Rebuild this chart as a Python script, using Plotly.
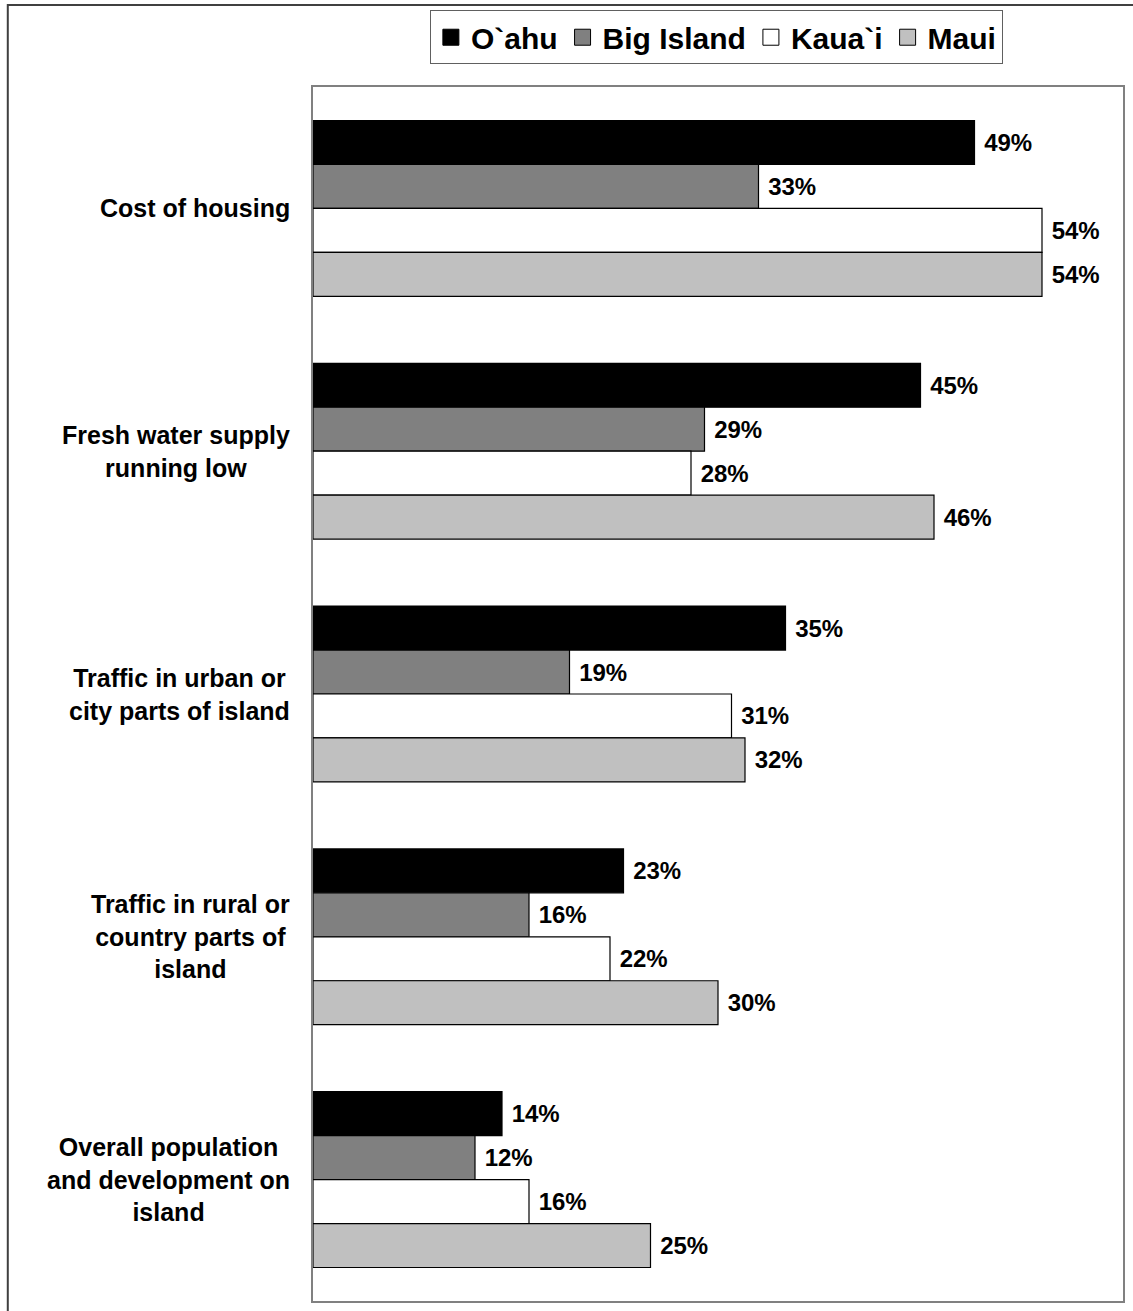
import plotly.graph_objects as go

# Survey: share naming each issue as a problem, by island
categories = [
    "Cost of housing",
    "Fresh water supply<br>running low",
    "Traffic in urban or<br>city parts of island",
    "Traffic in rural or<br>country parts of<br>island",
    "Overall population<br>and development on<br>island",
]
islands = ["O`ahu", "Big Island", "Kaua`i", "Maui"]
oahu = [49, 45, 35, 23, 14]
big_island = [33, 29, 19, 16, 12]
kauai = [54, 28, 31, 22, 16]
maui = [54, 46, 32, 30, 25]
series = [oahu, big_island, kauai, maui]
colors = ["#000000", "#808080", "#FFFFFF", "#C0C0C0"]

FONT = "Liberation Sans, Arial, sans-serif"

fig = go.Figure()

for name, vals, col in zip(islands, series, colors):
    fig.add_trace(go.Bar(
        y=categories,
        x=vals,
        orientation="h",
        name=name,
        marker=dict(color=col, line=dict(color="#000000", width=1.2)),
        text=["\u00a0%d%%" % v for v in vals],
        textposition="outside",
        textfont=dict(family=FONT, size=24, color="#000000", weight="bold"),
        constraintext="none",
        cliponaxis=False,
        showlegend=False,
    ))

# legend entries with larger square swatches
for name, col in zip(islands, colors):
    fig.add_trace(go.Scatter(
        x=[None], y=[None],
        mode="markers",
        name=name,
        marker=dict(symbol="square", size=16, color=col,
                    line=dict(color="#000000", width=1)),
        showlegend=True,
    ))

# category labels, centred lines to the left of the axis
for cat in categories:
    fig.add_annotation(
        x=0, xref="paper", y=cat, yref="y",
        text=cat, showarrow=False,
        xanchor="right", yanchor="middle", align="center",
        xshift=-21,
        font=dict(family=FONT, size=25, color="#000000", weight="bold"),
    )

# outer frame around the whole chart
fig.add_shape(
    type="rect", xref="paper", yref="paper",
    x0=-0.3768, x1=1.06, y0=-0.03, y1=1.0675,
    line=dict(color="#404040", width=2), fillcolor="rgba(0,0,0,0)",
    layer="above",
)

fig.update_layout(
    width=1133, height=1311,
    margin=dict(l=313, r=8, t=87, b=10),
    paper_bgcolor="#FFFFFF", plot_bgcolor="#FFFFFF",
    barmode="group", bargap=0.276, bargroupgap=0,
    font=dict(family=FONT, color="#000000"),
    legend=dict(
        orientation="h",
        x=0.498, xanchor="center",
        y=1.041, yanchor="middle",
        bordercolor="#606060", borderwidth=1,
        bgcolor="#FFFFFF",
        font=dict(family=FONT, size=30, color="#000000", weight="bold"),
        itemclick=False, itemdoubleclick=False,
    ),
    xaxis=dict(
        range=[0, 60], showticklabels=False, showgrid=False, zeroline=False,
        ticks="", showline=True, mirror=True, linecolor="#808080", linewidth=2,
        fixedrange=True,
    ),
    yaxis=dict(
        categoryorder="array", categoryarray=categories,
        range=[4.5, -0.5], showticklabels=False, showgrid=False, zeroline=False,
        ticks="", showline=True, mirror=True, linecolor="#808080", linewidth=2,
        fixedrange=True,
    ),
)

fig.write_html("out.html")
